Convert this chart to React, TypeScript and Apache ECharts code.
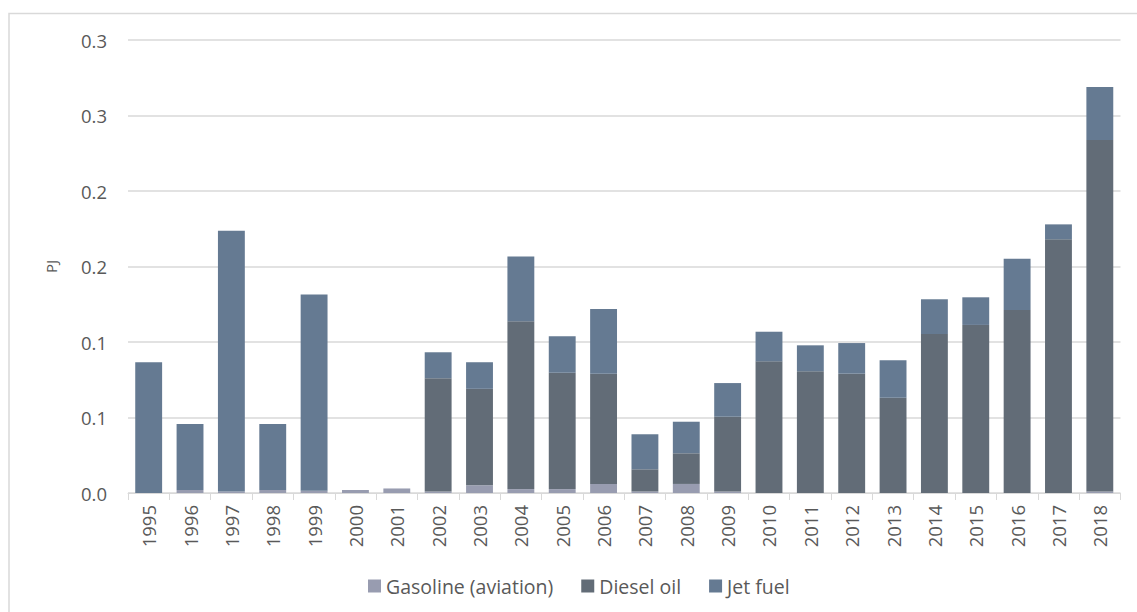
import React, { useEffect, useRef } from "react";
import * as echarts from "echarts";

const years = [
  "1995", "1996", "1997", "1998", "1999", "2000", "2001", "2002", "2003", "2004", "2005", "2006",
  "2007", "2008", "2009", "2010", "2011", "2012", "2013", "2014", "2015", "2016", "2017", "2018",
];

const gasolineAviation = [
  0, 0.002, 0.001, 0.002, 0.0015, 0.002, 0.003, 0.001, 0.0051, 0.0026, 0.0026, 0.006,
  0.001, 0.006, 0.001, 0, 0, 0, 0, 0, 0, 0, 0, 0.001,
];

const dieselOil = [
  0, 0, 0, 0, 0, 0, 0, 0.075, 0.0639, 0.1111, 0.0771, 0.073,
  0.0147, 0.0203, 0.0495, 0.0872, 0.0806, 0.079, 0.0631, 0.1053, 0.1113, 0.1212, 0.168, 0.2328,
];

const jetFuel = [
  0.0866, 0.0437, 0.1727, 0.0437, 0.130, 0, 0, 0.0172, 0.0176, 0.043, 0.0241, 0.0429,
  0.0232, 0.0209, 0.0223, 0.0196, 0.0172, 0.0203, 0.0248, 0.023, 0.0183, 0.034, 0.0099, 0.0351,
];

const yTickLabels = ["0.0", "0.1", "0.1", "0.2", "0.2", "0.3", "0.3"];

const seriesNames = ["Gasoline (aviation)", "Diesel oil", "Jet fuel"];
const seriesColors = ["#989cb0", "#626c77", "#657a92"];

const FONT = "'Open Sans', sans-serif";
const TEXT = "#595959";
const GRID = "#d9d9d9";

export default function App() {
  const ref = useRef<HTMLDivElement>(null);

  useEffect(() => {
    document.body.style.margin = "0";
    if (!ref.current) return;
    const chart = echarts.init(ref.current, null, { renderer: "svg" });
    const data = [gasolineAviation, dieselOil, jetFuel];
    chart.setOption({
      animation: false,
      backgroundColor: "#ffffff",
      textStyle: { fontFamily: FONT },
      graphic: [
        {
          type: "rect",
          shape: { x: 9, y: 13.5, width: 1140, height: 620 },
          style: { fill: "none", stroke: GRID, lineWidth: 1.5 },
          silent: true,
        },
      ],
      grid: { left: 128, right: 16.5, top: 40, bottom: 119, containLabel: false },
      legend: {
        top: 571,
        left: 363,
        icon: "rect",
        itemWidth: 13,
        itemHeight: 13,
        itemGap: 28,
        textStyle: { color: TEXT, fontSize: 19.5, fontFamily: FONT },
        data: seriesNames,
      },
      xAxis: {
        type: "category",
        data: years,
        axisLine: { show: true, lineStyle: { color: GRID, width: 1 } },
        axisTick: { show: true, length: 7, lineStyle: { color: GRID } },
        axisLabel: {
          rotate: 90,
          color: TEXT,
          fontSize: 18.5,
          fontFamily: FONT,
          margin: 12,
          interval: 0,
        },
      },
      yAxis: {
        type: "value",
        min: 0,
        max: 0.3,
        interval: 0.05,
        name: "PJ",
        nameLocation: "middle",
        nameRotate: 90,
        nameGap: 70,
        nameTextStyle: { color: TEXT, fontSize: 15, fontFamily: FONT },
        axisLine: { show: false },
        axisTick: { show: false },
        splitLine: { lineStyle: { color: GRID, width: 1.5 } },
        axisLabel: {
          color: TEXT,
          fontSize: 18.5,
          fontFamily: FONT,
          margin: 21,
          formatter: (v: number) => yTickLabels[Math.round(v / 0.05)] ?? "",
        },
      },
      series: seriesNames.map((name, i) => ({
        name,
        type: "bar",
        stack: "total",
        data: data[i],
        barCategoryGap: "35%",
        itemStyle: { color: seriesColors[i] },
      })),
    });
    return () => chart.dispose();
  }, []);

  return <div ref={ref} style={{ width: 1137, height: 612 }} />;
}
